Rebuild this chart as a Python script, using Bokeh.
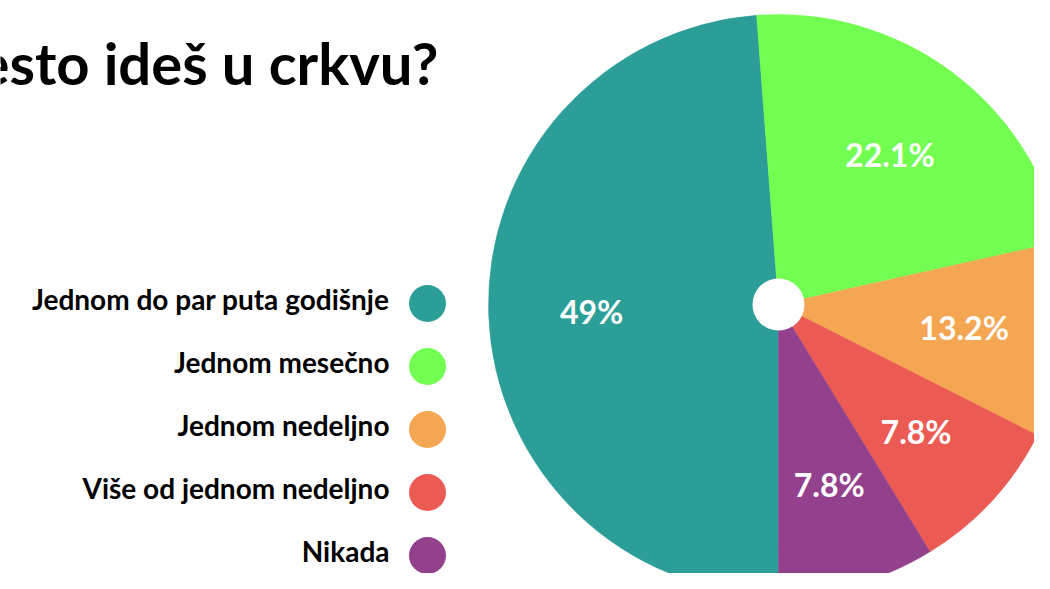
import math
from bokeh.plotting import figure
from bokeh.models import Range1d, ColumnDataSource
from bokeh.core.properties import value
from bokeh.embed import file_html
from bokeh.resources import INLINE

# ---- data ----
title = "Koliko često ideš u crkvu?"
categories = ["Jednom do par puta godišnje", "Jednom mesečno", "Jednom nedeljno",
              "Više od jednom nedeljno", "Nikada"]
# slice sizes as drawn in the picture (percent)
shares = [48.8, 22.7, 10.95, 8.8, 8.75]
# slice labels as printed
pct_labels = ["49%", "22.1%", "13.2%", "7.8%", "7.8%"]
colors = ["#2C9E98", "#72FF52", "#F5A652", "#EC5A54", "#93418D"]

# ---- layout (reference pixel coordinates; y measured from the top) ----
W, H = 1034, 573
TOP = H  # data y at top edge
cx, cy_top = 778, 304
R = 290
hole_r = 26
label_r = 0.645 * R

def Y(y_top):
    return TOP - y_top

p = figure(width=W, height=H, x_range=Range1d(0, W), y_range=Range1d(0, H),
           output_backend="svg", toolbar_location=None, min_border=0,
           x_axis_location=None, y_axis_location=None)
p.grid.visible = False
p.outline_line_color = None
p.background_fill_color = "white"

# pie: start at bottom, go clockwise
total = sum(shares)
start_deg = 180.0  # clockwise from top
starts, ends, lx, ly = [], [], [], []
for s in shares:
    span = 360.0 * s / total
    a0 = start_deg
    a1 = start_deg + span
    starts.append(math.radians(90 - a0))
    ends.append(math.radians(90 - a1))
    mid = math.radians(90 - (a0 + a1) / 2)
    lx.append(cx + label_r * math.cos(mid))
    ly.append(Y(cy_top) + label_r * math.sin(mid))
    start_deg = a1

src = ColumnDataSource(dict(start=starts, end=ends, color=colors, lx=lx, ly=ly, lab=pct_labels))
p.wedge(x=cx, y=Y(cy_top), radius=R, start_angle="start", end_angle="end", direction="clock",
        fill_color="color", line_color="color", line_width=0.5, source=src)
p.scatter(x=[cx], y=[Y(cy_top)], size=2 * hole_r, marker="circle", fill_color="white", line_color=None)
p.text(x="lx", y="ly", text="lab", source=src, text_align="center", text_baseline="middle",
       text_color="white", text_font=value("Lato"), text_font_style="bold", text_font_size="32px")

# title (cut at the left edge like the reference)
p.text(x=[438], y=[Y(62)], text=[title], text_align="right", text_baseline="alphabetic",
       text_font=value("Lato"), text_font_style="bold", text_font_size="58px", text_color="black")

# legend
leg_x_text = 389
leg_x_dot = 427
leg_y0 = 303
leg_dy = 63
ys_dot = [Y(leg_y0 + i * leg_dy) for i in range(len(categories))]
ys_txt = [Y(leg_y0 - 5 + i * leg_dy) for i in range(len(categories))]
p.scatter(x=[leg_x_dot] * len(categories), y=ys_dot, size=37, marker="circle",
          fill_color=colors, line_color=None)
p.text(x=[leg_x_text] * len(categories), y=ys_txt, text=categories, text_align="right",
       text_baseline="middle", text_font=value("Lato"), text_font_style="bold",
       text_font_size="28px", text_color="black")

open("out.html", "w").write(file_html(p, INLINE))
